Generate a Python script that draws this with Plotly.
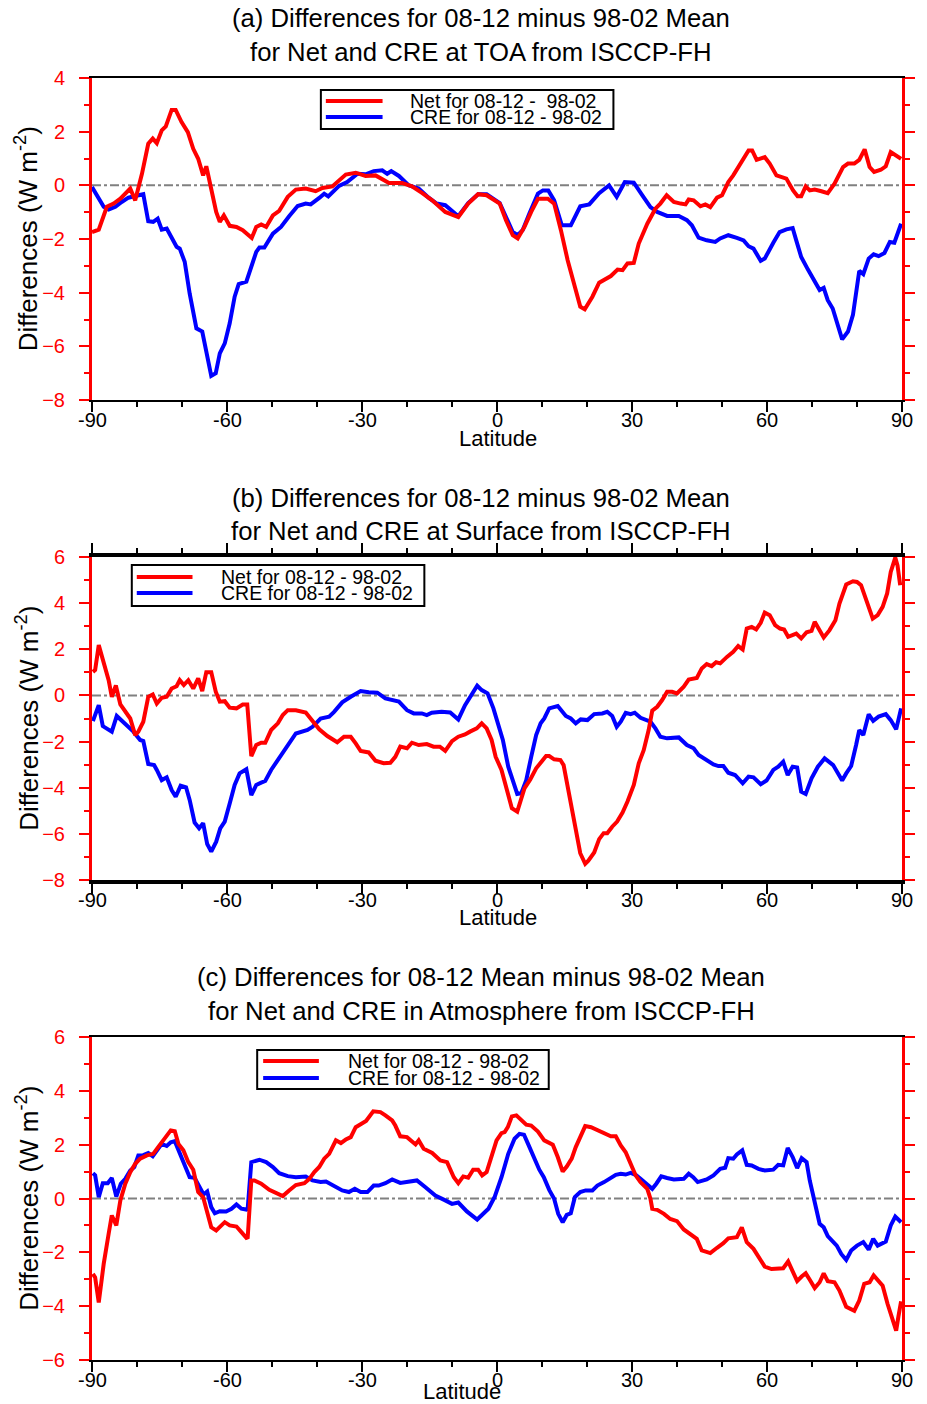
import plotly.graph_objects as go

# ---------------- data (latitude, W m-2) ----------------
# Panel (a) TOA
lat_a_net = [-90, -88.5, -86.7, -85.2, -83.7, -81.5, -80.4, -78.9, -77.5, -76.5, -75.6, -74.5, -73.6, -72.3, -71.4,
             -70.1, -68.7, -67.5, -66.4, -65.3, -64.6, -63.5, -62.4, -61.6, -60.7, -59.4, -57.9, -56.5, -54.5, -53.5,
             -52.4, -51.3, -49.8, -48.4, -46.5, -44.7, -42.5, -40.3, -38.8, -36.6, -33.6, -31.4, -29.2, -27.0, -25.5,
             -24.0, -21.1, -18.9, -16.6, -14.4, -11.5, -8.6, -6.4, -4.2, -2.3, 0.6, 2.0, 3.5, 4.6, 6.1, 7.6, 9.1, 11.3,
             12.7, 14.2, 15.7, 17.3, 18.5, 19.5, 21.2, 22.7, 23.8, 25.3, 26.8, 27.9, 29.0, 30.4, 31.5, 33.4, 35.2, 36.3,
             37.7, 39.3, 40.8, 41.9, 42.6, 43.7, 45.2, 46.3, 47.4, 48.9, 50.0, 51.4, 52.5, 54.0, 55.9, 56.7, 57.7, 59.5,
             60.6, 62.1, 64.3, 65.8, 66.8, 67.6, 68.6, 69.5, 70.6, 72.1, 73.5, 75.0, 76.9, 78.0, 79.4, 80.5, 81.7, 82.8,
             83.8, 85.3, 86.4, 87.5, 88.7, 89.8]
val_a_net = [-1.74, -1.65, -0.8, -0.68, -0.5, -0.12, -0.56, 0.43, 1.55, 1.74, 1.57, 2.05, 2.2, 2.81, 2.81,
             2.36, 1.98, 1.36, 0.99, 0.37, 0.71, -0.19, -0.99, -1.36, -1.12, -1.51, -1.55, -1.67, -1.96, -1.55,
             -1.46, -1.55, -1.12, -0.95, -0.43, -0.16, -0.12, -0.22, -0.1, -0.04, 0.4, 0.47, 0.35, 0.37, 0.25,
             0.09, 0.09, -0.04, -0.29, -0.56, -0.99, -1.18, -0.68, -0.33, -0.37, -0.68, -1.3, -1.86, -1.98, -1.55, -0.99, -0.5, -0.5,
             -0.68, -1.67, -2.79, -3.78, -4.52, -4.62, -4.15, -3.63, -3.53, -3.38, -3.14, -3.16, -2.91, -2.89, -2.17, -1.43, -0.87, -0.68,
             -0.37, -0.62, -0.68, -0.71, -0.53, -0.56, -0.78, -0.71, -0.81, -0.46, -0.37, 0.12, 0.37, 0.81, 1.3, 1.3, 0.95, 1.05,
             0.81, 0.37, 0.25, -0.19, -0.41, -0.41, -0.04, -0.19, -0.16, -0.22, -0.29, 0.06, 0.68, 0.81, 0.81, 0.95, 1.34, 0.68,
             0.5, 0.58, 0.71, 1.24, 1.12, 0.99]

lat_a_cre = [-90, -88.9, -87.4, -86.3, -84.8, -83.4, -81.9, -80.4, -78.6, -77.5, -76.4, -75.4, -74.5, -73.4, -72.3,
             -71.2, -70.5, -69.4, -68.3, -66.8, -65.5, -63.5, -62.5, -61.6, -60.5, -59.4, -58.3, -57.4, -55.7, -54.6,
             -53.5, -52.8, -51.7, -49.8, -48.0, -46.2, -44.3, -42.5, -41.4, -39.5, -38.4, -37.5, -35.1, -33.3, -31.0,
             -29.2, -27.4, -25.5, -24.4, -23.5, -21.8, -19.6, -17.4, -15.2, -13.4, -11.5, -8.6, -6.4, -4.2, -2.3,
             0.6, 2.0, 3.5, 4.6, 5.7, 7.2, 9.1, 10.2, 11.4, 12.7, 14.4, 16.4, 18.5, 20.5, 22.7, 24.9, 26.6, 28.4, 30.4,
             32.3, 34.1, 35.6, 37.8, 40.4, 42.2, 43.3, 44.8, 46.6, 48.5, 49.6, 51.4, 53.3, 54.8, 55.9, 57.0, 58.6, 59.5,
             61.4, 62.8, 64.3, 65.7, 66.5, 67.6, 69.1, 70.6, 71.7, 72.6, 73.5, 74.6, 75.7, 76.7, 78.0, 79.1, 80.5, 81.4,
             82.6, 83.7, 84.8, 86.1, 87.3, 88.3, 89.8]
val_a_cre = [-0.06, -0.37, -0.8, -0.9, -0.8, -0.62, -0.46, -0.4, -0.33, -1.34, -1.36, -1.24, -1.65, -1.61, -1.98,
             -2.29, -2.36, -2.85, -4.03, -5.33, -5.45, -7.1, -7.0, -6.26, -5.89, -5.14, -4.15, -3.68, -3.59, -3.04,
             -2.48, -2.32, -2.32, -1.8, -1.55, -1.15, -0.77, -0.68, -0.71, -0.47, -0.31, -0.41, -0.02, 0.12, 0.43,
             0.41, 0.53, 0.56, 0.43, 0.53, 0.35, 0.0, -0.12, -0.46, -0.68, -0.74, -1.15, -0.66, -0.33, -0.33,
             -0.66, -1.18, -1.74, -1.86, -1.67, -1.05, -0.31, -0.19, -0.19, -0.56, -1.49, -1.49, -0.78, -0.71, -0.29, 0.0, -0.43, 0.12, 0.1,
             -0.37, -0.81, -0.99, -1.14, -1.14, -1.3, -1.49, -1.95, -2.05, -2.11, -1.98, -1.86, -1.96, -2.05, -2.27, -2.36, -2.81, -2.73,
             -2.14, -1.74, -1.64, -1.59, -2.05, -2.67, -3.14, -3.57, -3.9, -3.82, -4.28, -4.59, -5.14, -5.74, -5.45, -4.83, -3.19, -3.31,
             -2.73, -2.57, -2.64, -2.52, -2.11, -2.14, -1.43]

# Panel (b) Surface
lat_b_net = [-89.8, -89.3, -88.5, -87.4, -86.3, -85.6, -84.7, -83.7, -82.6, -81.5, -80.4, -79.7, -78.6, -77.5, -76.5,
             -75.6, -74.5, -73.4, -72.3, -71.2, -70.5, -69.6, -68.6, -67.5, -66.4, -65.5, -64.6, -63.5, -62.5, -61.6,
             -60.5, -59.4, -57.9, -56.5, -55.5, -54.6, -53.5, -52.4, -51.5, -50.2, -48.7, -47.6, -46.5, -44.7, -42.5,
             -41.0, -39.5, -37.7, -35.5, -34.0, -32.5, -31.4, -30.3, -28.5, -27.0, -25.2, -23.7, -22.6, -21.5, -20.0,
             -18.9, -17.4, -15.6, -14.1, -12.7, -11.5, -10.0, -8.6, -7.1, -6.0, -4.5, -3.4, -2.3, -1.2, -0.3, 1.0, 2.5,
             3.3, 4.5, 6.1, 7.4, 8.7, 10.9, 11.6, 12.7, 14.1, 14.8, 15.7, 16.8, 17.5, 18.5, 19.6, 20.3, 21.6, 22.7, 23.7,
             24.5, 25.6, 26.7, 27.9, 29.0, 30.4, 31.5, 32.6, 33.7, 34.5, 35.6, 36.7, 37.8, 38.9, 40.0, 41.5, 42.6, 44.4,
             45.5, 46.6, 47.7, 48.7, 49.6, 51.1, 52.5, 53.6, 54.6, 55.5, 56.6, 57.6, 58.6, 59.5, 60.6, 61.8, 62.9, 63.8,
             64.7, 66.5, 67.6, 68.8, 69.9, 70.6, 71.6, 72.6, 73.9, 75.2, 76.1, 77.6, 79.1, 80.0, 80.9, 82.0, 83.5, 84.6,
             85.7, 86.7, 87.5, 88.5, 89.0, 89.6]
val_b_net = [1.02, 1.1, 2.18, 1.39, 0.66, -0.06, 0.43, -0.39, -0.71, -1.0, -1.72, -1.57, -1.14, -0.06, 0.04,
             -0.35, -0.1, -0.06, 0.3, 0.4, 0.66, 0.45, 0.66, 0.3, 0.74, 0.19, 1.01, 1.01, 0.16, -0.27,
             -0.25, -0.53, -0.56, -0.39, -0.39, -2.63, -2.15, -2.05, -2.05, -1.5, -1.21, -0.85, -0.64, -0.64, -0.74,
             -1.14, -1.47, -1.76, -2.03, -1.79, -1.79, -2.08, -2.41, -2.47, -2.83, -2.94, -2.92, -2.66, -2.22, -2.29,
             -2.05, -2.15, -2.11, -2.22, -2.22, -2.4, -1.98, -1.79, -1.69, -1.57, -1.43, -1.21, -1.43, -1.93, -2.66, -3.23, -4.24,
             -4.89, -5.04, -4.03, -3.64, -3.16, -2.63, -2.63, -2.77, -2.8, -3.02, -3.95, -4.96, -5.69, -6.84, -7.3, -7.16, -6.81, -6.23, -5.97,
             -5.97, -5.69, -5.47, -5.08, -4.6, -3.88, -2.94, -2.37, -1.5, -0.66, -0.49, -0.2, 0.16, 0.16, 0.09, 0.38, 0.69, 0.76,
             1.17, 1.36, 1.27, 1.44, 1.39, 1.67, 1.89, 2.14, 1.99, 2.9, 2.97, 2.86, 3.15, 3.59, 3.48, 3.05, 2.9, 2.86,
             2.54, 2.68, 2.47, 2.74, 2.8, 3.19, 2.86, 2.51, 2.83, 3.26, 3.98, 4.81, 4.95, 4.92, 4.78, 4.16, 3.33, 3.48,
             3.84, 4.42, 5.35, 5.97, 5.64, 4.78]

lat_b_cre = [-89.8, -88.5, -87.6, -85.6, -84.5, -83.0, -80.8, -79.3, -78.6, -77.5, -76.2, -75.6, -74.5, -73.4, -72.3,
             -71.4, -70.3, -69.1, -68.3, -67.2, -66.2, -65.3, -64.4, -63.5, -62.4, -61.5, -60.5, -59.4, -58.3, -57.2,
             -55.7, -54.6, -53.5, -52.4, -51.5, -50.2, -48.4, -46.5, -44.7, -42.1, -41.0, -39.2, -37.3, -36.2, -34.4,
             -32.5, -30.3, -28.5, -26.6, -24.8, -22.9, -21.8, -20.0, -18.5, -16.7, -15.6, -14.5, -12.3, -10.4, -8.6,
             -7.1, -5.6, -4.4, -3.4, -2.1, -0.8, 0.6, 1.3, 2.5, 3.9, 4.5, 5.4, 6.5, 7.6, 8.7, 9.7, 10.5, 11.6, 13.5,
             15.3, 16.4, 17.5, 18.6, 20.1, 21.6, 23.4, 24.5, 25.6, 26.6, 27.5, 28.6, 29.7, 30.6, 31.9, 34.1, 35.2, 36.3,
             37.8, 39.3, 40.4, 42.2, 43.7, 44.8, 46.6, 48.1, 49.2, 50.3, 51.4, 52.9, 54.6, 55.9, 57.0, 58.6, 59.9, 61.4,
             62.5, 63.6, 64.6, 65.7, 66.7, 67.6, 68.6, 69.9, 71.3, 72.8, 74.7, 76.7, 77.6, 78.7, 79.8, 80.5, 81.4, 82.6,
             83.6, 84.8, 86.4, 87.5, 88.7, 89.8]
val_b_cre = [-1.11, -0.42, -1.33, -1.57, -0.89, -1.18, -1.57, -1.93, -1.98, -2.97, -3.02, -3.23, -3.67, -3.55, -4.1,
             -4.39, -3.91, -3.98, -4.53, -5.51, -5.76, -5.54, -6.44, -6.77, -6.34, -5.76, -5.47, -4.68, -3.88, -3.38,
             -3.2, -4.32, -3.88, -3.78, -3.71, -3.23, -2.73, -2.22, -1.65, -1.5, -1.36, -1.0, -0.92, -0.71, -0.3,
             -0.06, 0.19, 0.14, 0.12, -0.13, -0.2, -0.27, -0.64, -0.78, -0.78, -0.85, -0.75, -0.71, -0.74, -1.04,
             -0.42, 0.09, 0.42, 0.23, 0.09, -0.56, -1.5, -1.93, -3.09, -3.95, -4.27, -4.24, -3.67, -2.66, -1.72, -1.21, -1.0, -0.56, -0.46,
             -0.89, -1.0, -1.21, -1.04, -1.07, -0.81, -0.78, -0.71, -0.89, -1.36, -1.14, -0.75, -0.81, -0.75, -0.97, -1.14, -1.43, -1.79,
             -1.86, -1.86, -1.82, -2.15, -2.29, -2.58, -2.8, -2.99, -3.06, -3.06, -3.35, -3.45, -3.81, -3.52, -3.55, -3.85, -3.69, -3.23,
             -3.09, -2.87, -3.45, -3.09, -3.12, -4.17, -4.27, -3.59, -3.09, -2.73, -3.02, -3.69, -3.38, -3.06, -2.15, -1.5, -1.72, -0.82,
             -1.1, -0.92, -0.81, -1.07, -1.47, -0.56]

# Panel (c) Atmosphere
lat_c_net = [-89.8, -89.3, -88.5, -87.4, -86.3, -85.6, -84.6, -83.7, -82.6, -81.5, -80.4, -79.3, -77.8, -76.4, -75.3,
             -73.8, -72.5, -71.6, -70.8, -69.7, -68.6, -67.5, -66.4, -65.3, -64.2, -63.5, -62.4, -60.5, -59.4, -57.9,
             -56.8, -55.7, -55.4, -54.6, -53.9, -52.4, -50.6, -49.1, -47.6, -46.2, -44.7, -42.8, -41.7, -40.6, -39.5,
             -38.4, -37.3, -35.8, -34.7, -33.6, -32.5, -31.4, -29.9, -29.1, -27.5, -25.9, -24.8, -23.3, -22.6, -21.5,
             -20.0, -18.9, -18.1, -17.4, -16.3, -14.4, -12.6, -11.1, -9.6, -8.6, -7.5, -6.4, -5.3, -4.2, -3.3, -2.3,
             -1.2, -0.1, 1.0, 1.7, 2.4, 3.3, 4.3, 5.4, 6.5, 7.6, 9.1, 10.5, 12.4, 13.5, 14.6, 15.5, 16.6, 17.5, 18.6,
             19.6, 20.9, 22.0, 23.1, 24.2, 25.3, 26.4, 27.5, 28.6, 29.7, 30.8, 31.9, 33.4, 34.1, 34.5, 35.6, 37.1, 38.5,
             40.0, 41.5, 43.0, 44.4, 45.5, 47.4, 48.9, 50.3, 51.4, 53.3, 54.4, 55.5, 57.0, 58.1, 59.5, 61.0, 62.1, 63.6,
             64.7, 65.7, 66.7, 67.7, 68.6, 69.5, 70.6, 71.7, 72.6, 73.5, 75.0, 76.1, 77.6, 79.4, 80.5, 81.6, 82.8, 83.7,
             84.8, 85.7, 86.8, 87.8, 88.7, 89.2, 89.8]
val_c_net = [-2.8, -2.93, -3.86, -2.43, -1.31, -0.63, -1.0, -0.07, 0.55, 0.98, 1.29, 1.48, 1.6, 1.66, 1.91,
             2.22, 2.53, 2.5, 2.03, 1.79, 1.35, 1.07, 0.24, 0.05, -0.57, -1.07, -1.19, -0.88, -1.0, -1.04,
             -1.25, -1.46, -1.44, 0.67, 0.67, 0.55, 0.32, 0.2, 0.09, 0.3, 0.5, 0.57, 0.73, 0.98, 1.17,
             1.48, 1.66, 2.16, 2.06, 2.19, 2.28, 2.65, 2.8, 2.88, 3.24, 3.21, 3.09, 2.9, 2.71, 2.31,
             2.28, 2.12, 2.01, 2.16, 1.85, 1.69, 1.41, 1.35, 0.79, 0.57, 0.82, 0.77, 1.07, 1.07, 0.86, 0.98,
             1.54, 2.16, 2.43, 2.47, 2.65, 3.05, 3.09, 2.93, 2.74, 2.71, 2.49, 2.16, 2.0, 1.54, 1.0, 1.19, 1.48, 1.91, 2.31,
             2.69, 2.65, 2.57, 2.49, 2.43, 2.31, 2.31, 1.97, 1.72, 1.29, 0.86, 0.61, 0.36, -0.01, -0.38, -0.42, -0.57, -0.76,
             -0.84, -1.15, -1.31, -1.5, -1.93, -2.03, -1.83, -1.66, -1.48, -1.44, -1.07, -1.62, -1.87, -2.18, -2.53, -2.62, -2.62, -2.59,
             -2.34, -2.74, -3.07, -2.9, -2.78, -3.02, -3.33, -3.11, -2.78, -3.07, -3.11, -3.42, -4.02, -4.17, -3.79, -3.17, -3.11, -2.86,
             -3.05, -3.24, -3.92, -4.41, -4.91, -4.39, -3.82]

lat_c_cre = [-89.8, -89.3, -88.5, -87.6, -86.5, -85.6, -84.6, -83.6, -82.6, -81.5, -80.6, -79.7, -78.6, -77.5, -76.5,
             -75.5, -74.5, -73.4, -72.5, -71.6, -70.5, -69.4, -68.3, -67.2, -66.0, -65.2, -64.4, -63.5, -62.7, -61.6,
             -60.2, -59.0, -57.9, -56.8, -55.7, -55.4, -54.6, -52.8, -51.3, -49.8, -48.4, -46.5, -44.7, -42.5, -41.0,
             -39.2, -38.0, -36.6, -34.4, -32.9, -31.6, -30.3, -28.8, -27.4, -26.3, -24.8, -23.3, -21.5, -20.0, -17.8,
             -15.9, -13.7, -11.5, -10.0, -8.6, -6.7, -4.4, -3.4, -1.9, -0.5, 1.0, 2.5, 3.9, 5.0, 6.0, 6.9, 8.3, 9.4,
             10.4, 11.6, 12.7, 13.6, 14.6, 15.5, 16.4, 17.3, 18.5, 19.7, 21.2, 22.3, 23.8, 25.3, 26.4, 27.5, 28.6, 29.7,
             30.8, 31.9, 33.2, 34.5, 35.4, 36.5, 37.8, 39.3, 41.5, 42.6, 43.6, 44.6, 46.6, 48.1, 49.6, 50.7, 51.4, 52.5,
             53.3, 54.5, 55.5, 56.6, 58.1, 59.5, 61.4, 62.5, 63.6, 64.6, 65.7, 66.7, 67.7, 68.8, 69.5, 70.6, 71.7, 72.6,
             73.5, 74.6, 75.5, 76.5, 77.6, 78.7, 80.0, 81.4, 82.6, 83.6, 84.6, 86.4, 87.5, 88.5, 89.8]
val_c_cre = [0.94, 0.86, 0.05, 0.57, 0.57, 0.76, 0.07, 0.55, 0.73, 1.04, 1.17, 1.6, 1.61, 1.69, 1.57,
             1.81, 2.03, 1.95, 2.09, 2.13, 1.66, 1.17, 0.79, 0.77, 0.36, 0.15, 0.26, -0.32, -0.55, -0.47,
             -0.48, -0.38, -0.22, -0.38, -0.41, -0.38, 1.35, 1.44, 1.35, 1.17, 0.94, 0.83, 0.79, 0.82, 0.67,
             0.61, 0.63, 0.51, 0.3, 0.24, 0.36, 0.24, 0.24, 0.48, 0.48, 0.57, 0.71, 0.58, 0.63, 0.67,
             0.42, 0.11, -0.07, -0.2, -0.15, -0.48, -0.78, -0.63, -0.38, 0.07, 0.79, 1.66, 2.22, 2.4, 2.37, 2.03, 1.48, 1.07,
             0.79, 0.32, -0.01, -0.57, -0.88, -0.61, -0.55, 0.05, 0.24, 0.3, 0.3, 0.48, 0.61, 0.79, 0.88, 0.92, 0.89, 0.95,
             0.88, 0.73, 0.52, 0.36, 0.55, 0.82, 0.76, 0.71, 0.73, 0.92, 0.79, 0.61, 0.71, 0.86, 1.1, 1.14, 1.5, 1.48,
             1.64, 1.79, 1.25, 1.23, 1.1, 1.04, 1.07, 1.25, 1.23, 1.88, 1.54, 1.13, 1.5, 1.35, 0.67, -0.2, -0.94, -1.07,
             -1.4, -1.59, -1.75, -2.06, -2.28, -1.93, -1.75, -1.62, -1.9, -1.5, -1.75, -1.6, -1.0, -0.67, -0.88]

x_ticks = [-90, -60, -30, 0, 30, 60, 90]
x_tick_text = ["-90", "-60", "-30", "0", "30", "60", "90"]

panel_titles = [
    ("(a) Differences for 08-12 minus 98-02 Mean", "for Net and CRE at TOA from ISCCP-FH"),
    ("(b) Differences for 08-12 minus 98-02 Mean", "for Net and CRE at Surface from ISCCP-FH"),
    ("(c) Differences for 08-12 Mean minus 98-02 Mean", "for Net and CRE in Atmosphere from ISCCP-FH"),
]
legend_net = ["Net for 08-12 -\u00a0\u00a098-02", "Net for 08-12 - 98-02", "Net for 08-12 - 98-02"]
legend_cre = ["CRE for 08-12 - 98-02", "CRE for 08-12 - 98-02", "CRE for 08-12 - 98-02"]
y_ranges = [[-8, 4], [-8, 6], [-6, 6]]

RED = "#FF0000"
BLUE = "#0000FF"
FONT = "Liberation Sans, Arial, Helvetica, sans-serif"

W, H = 927, 1404
SX0, SX1 = 92, 906          # plot area left / right (pixels)
SY_TOP, SY_BOTTOM = 78, 1360
L = SX0
R = W - SX1
T = SY_TOP
B = H - SY_BOTTOM
PW = SX1 - SX0
PH = SY_BOTTOM - SY_TOP


def px(xs):
    return (xs - SX0) / PW


def py(ys):
    return (SY_BOTTOM - ys) / PH


panel_px = [(78, 400), (557, 880), (1037, 1360)]

fig = go.Figure()

series = [
    (lat_a_net, val_a_net, lat_a_cre, val_a_cre),
    (lat_b_net, val_b_net, lat_b_cre, val_b_cre),
    (lat_c_net, val_c_net, lat_c_cre, val_c_cre),
]

for i, (ln, vn, lc, vc) in enumerate(series):
    sfx = "" if i == 0 else str(i + 1)
    fig.add_trace(go.Scatter(x=lc, y=vc, mode="lines", line=dict(color=BLUE, width=4),
                             name=legend_cre[i], showlegend=False, xaxis="x" + sfx, yaxis="y" + sfx))
    fig.add_trace(go.Scatter(x=ln, y=vn, mode="lines", line=dict(color=RED, width=4),
                             name=legend_net[i], showlegend=False, xaxis="x" + sfx, yaxis="y" + sfx))

layout = dict(
    width=W, height=H,
    margin=dict(l=L, r=R, t=T, b=B, pad=0),
    paper_bgcolor="white", plot_bgcolor="white",
    font=dict(family=FONT, color="black"),
    showlegend=False,
)

shapes = []
annotations = []

for i in range(3):
    sfx = "" if i == 0 else str(i + 1)
    top, bot = panel_px[i]
    dom = [py(bot), py(top)]
    xthick = 4 if i == 1 else 2
    layout["xaxis" + sfx] = dict(
        domain=[0, 1], anchor="y" + sfx, range=[-90, 90],
        tickmode="array", tickvals=x_ticks, ticktext=x_tick_text, showticklabels=False,
        ticks="outside", ticklen=10, tickwidth=1.5, tickcolor="black",
        minor=dict(dtick=10, tick0=-90, ticks="outside", ticklen=5, tickwidth=1.5, tickcolor="black"),
        showline=True, linecolor="black", linewidth=xthick,
        mirror="ticks" if i == 1 else True,
        showgrid=False, zeroline=False,
    )
    layout["yaxis" + sfx] = dict(
        domain=dom, anchor="x" + sfx, range=y_ranges[i],
        dtick=2, tick0=0,
        ticks="outside", ticklen=10, tickwidth=1.5, tickcolor=RED,
        minor=dict(dtick=1, ticks="outside", ticklen=5, tickwidth=1.5, tickcolor=RED),
        showline=True, linecolor=RED, linewidth=3, mirror="ticks",
        showgrid=False, zeroline=False,
        tickfont=dict(size=20, color=RED, family=FONT),
        ticklabelstandoff=10,
    )
    shapes.append(dict(type="line", xref="x" + sfx, yref="y" + sfx, x0=-90, x1=90, y0=0, y1=0,
                       line=dict(color="#808080", width=2, dash="dashdot"), layer="below"))

    for tv, tt in zip(x_ticks, x_tick_text):
        annotations.append(dict(text=tt, xref="x" + sfx, yref="paper", x=tv, y=py(bot + 20),
                                xanchor="center", yanchor="middle", showarrow=False,
                                font=dict(size=20, color="black", family=FONT)))

    t1, t2 = panel_titles[i]
    tcx = 483
    ty1 = [18, 498, 977][i]
    ty2 = [52, 531, 1011][i]
    for txt, yy in ((t1, ty1), (t2, ty2)):
        annotations.append(dict(text=txt, xref="paper", yref="paper", x=px(tcx), y=py(yy),
                                xanchor="center", yanchor="middle", showarrow=False,
                                font=dict(size=25.7, color="black", family=FONT)))
    annotations.append(dict(text="Differences (W m<sup>-2</sup>)", xref="paper", yref="paper",
                            x=px(27), y=py((top + bot) / 2), textangle=-90,
                            xanchor="center", yanchor="middle", showarrow=False,
                            font=dict(size=26, color="black", family=FONT)))
    lx = [500, 500, 464][i]
    lyy = [438, 917, 1392][i]
    annotations.append(dict(text="Latitude", xref="paper", yref="paper", x=px(lx), y=py(lyy),
                            xanchor="center", yanchor="middle", showarrow=False,
                            font=dict(size=22, color="black", family=FONT)))

legend_boxes = [
    dict(x0=322, x1=616, y0=90, y1=129, lx0=327, lx1=384, ya=101, yb=117, tx=410),
    dict(x0=132, x1=426, y0=565, y1=606, lx0=137, lx1=193, ya=577, yb=593, tx=220),
    dict(x0=258, x1=551, y0=1050, y1=1089, lx0=264, lx1=320, ya=1061, yb=1078, tx=347),
]
for i, lb in enumerate(legend_boxes):
    shapes.append(dict(type="rect", xref="paper", yref="paper",
                       x0=px(lb["x0"]), x1=px(lb["x1"]), y0=py(lb["y1"]), y1=py(lb["y0"]),
                       line=dict(color="black", width=2), fillcolor="white", layer="above"))
    shapes.append(dict(type="line", xref="paper", yref="paper",
                       x0=px(lb["lx0"]), x1=px(lb["lx1"]), y0=py(lb["ya"]), y1=py(lb["ya"]),
                       line=dict(color=RED, width=4), layer="above"))
    shapes.append(dict(type="line", xref="paper", yref="paper",
                       x0=px(lb["lx0"]), x1=px(lb["lx1"]), y0=py(lb["yb"]), y1=py(lb["yb"]),
                       line=dict(color=BLUE, width=4), layer="above"))
    for txt, yy in ((legend_net[i], lb["ya"]), (legend_cre[i], lb["yb"])):
        annotations.append(dict(text=txt, xref="paper", yref="paper", x=px(lb["tx"]), y=py(yy),
                                xanchor="left", yanchor="middle", showarrow=False,
                                font=dict(size=19.5, color="black", family=FONT)))

layout["shapes"] = shapes
layout["annotations"] = annotations
fig.update_layout(**layout)

fig.write_html(
    "out.html",
    config={"responsive": False, "displayModeBar": False},
    post_script="document.body.style.margin='0';document.body.style.overflow='hidden';",
)
